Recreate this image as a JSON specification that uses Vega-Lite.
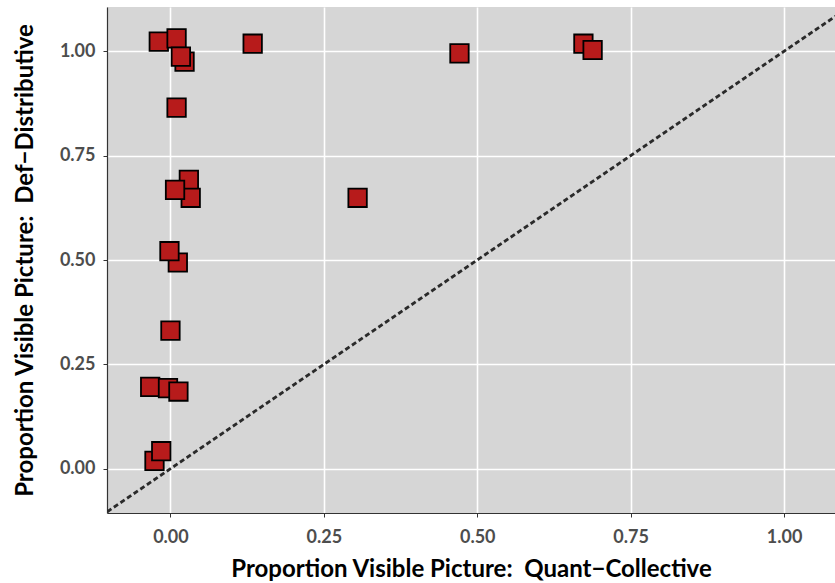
{
  "$schema": "https://vega.github.io/schema/vega-lite/v6.json",
  "width": 728,
  "height": 506,
  "autosize": "none",
  "padding": {"left": 107, "top": 7, "right": 0, "bottom": 70},
  "background": "white",
  "config": {
    "view": {"fill": "#d6d6d6", "stroke": null},
    "axis": {
      "grid": true,
      "gridColor": "white",
      "gridWidth": 1.6,
      "domainColor": "#333333",
      "domainWidth": 1.2,
      "tickColor": "#333333",
      "tickSize": 4,
      "labelFont": "Lato",
      "labelFontSize": 18,
      "labelFontWeight": "bold",
      "labelColor": "#4d4d4d",
      "titleFont": "Lato",
      "titleFontSize": 24,
      "titleFontWeight": "bold",
      "titleColor": "black"
    }
  },
  "layer": [
    {
      "data": {"values": [{"a": -0.2, "b": -0.2}, {"a": 1.3, "b": 1.3}]},
      "mark": {"type": "line", "clip": true, "color": "#2a2a2a", "strokeWidth": 2.8, "strokeDash": [5, 3]},
      "encoding": {
        "x": {"field": "a", "type": "quantitative"},
        "y": {"field": "b", "type": "quantitative"}
      }
    },
    {
      "data": {"values": [
        {"qc": -0.019, "dd": 1.023},
        {"qc": 0.010, "dd": 1.031},
        {"qc": 0.023, "dd": 0.975},
        {"qc": 0.017, "dd": 0.987},
        {"qc": 0.010, "dd": 0.865},
        {"qc": 0.134, "dd": 1.018},
        {"qc": 0.471, "dd": 0.995},
        {"qc": 0.673, "dd": 1.018},
        {"qc": 0.688, "dd": 1.003},
        {"qc": 0.305, "dd": 0.649},
        {"qc": 0.030, "dd": 0.692},
        {"qc": 0.033, "dd": 0.649},
        {"qc": 0.0075, "dd": 0.668},
        {"qc": 0.012, "dd": 0.494},
        {"qc": -0.0016, "dd": 0.521},
        {"qc": 0.000, "dd": 0.331},
        {"qc": -0.033, "dd": 0.196},
        {"qc": -0.004, "dd": 0.193},
        {"qc": 0.013, "dd": 0.185},
        {"qc": -0.026, "dd": 0.019},
        {"qc": -0.015, "dd": 0.042}
      ]},
      "mark": {"type": "square", "size": 340, "fill": "#b71b1b", "fillOpacity": 1, "stroke": "black", "strokeWidth": 1.8, "clip": true},
      "encoding": {
        "x": {
          "field": "qc", "type": "quantitative",
          "title": "Proportion Visible Picture: \u00a0Quant\u2212Collective",
          "scale": {"domain": [-0.1034, 1.083], "nice": false, "zero": false},
          "axis": {"values": [0, 0.25, 0.5, 0.75, 1], "format": ".2f", "labelPadding": 11, "titlePadding": 11}
        },
        "y": {
          "field": "dd", "type": "quantitative",
          "title": "Proportion Visible Picture: \u00a0Def\u2212Distributive",
          "scale": {"domain": [-0.106, 1.106], "nice": false, "zero": false},
          "axis": {"values": [0, 0.25, 0.5, 0.75, 1], "format": ".2f", "labelPadding": 8, "titlePadding": 22}
        }
      }
    }
  ]
}
